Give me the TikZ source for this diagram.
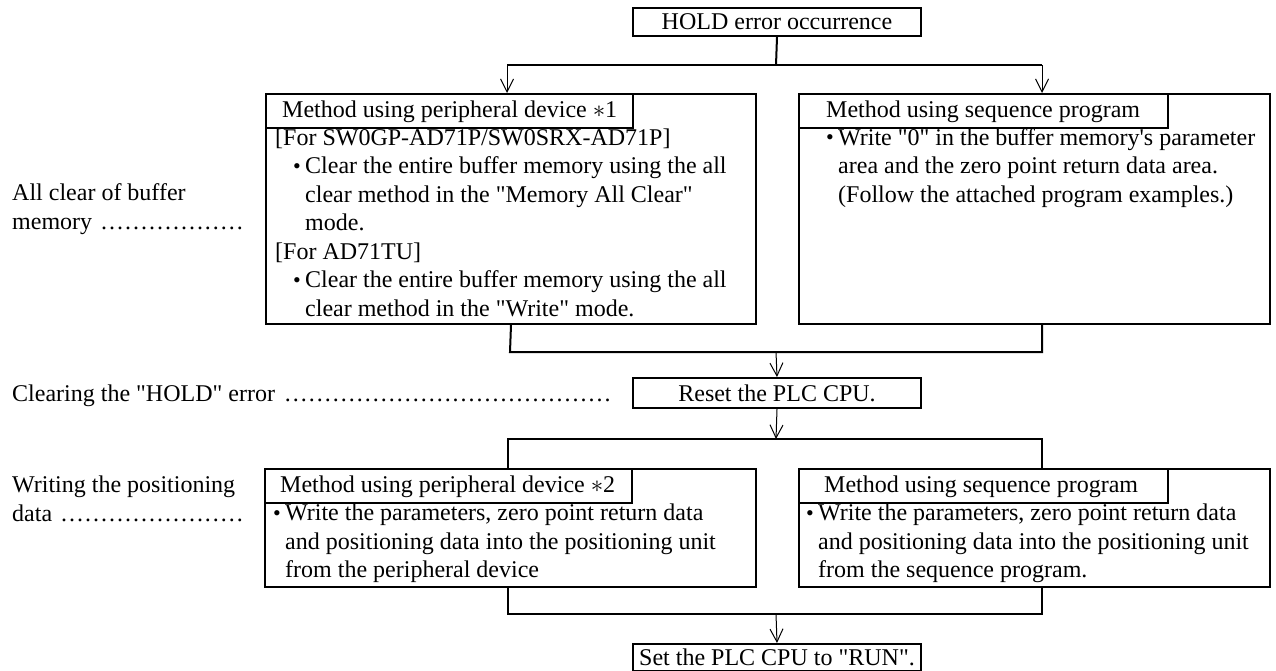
\documentclass[tikz,border=0pt]{standalone}
\usepackage{fontspec}
\setmainfont{Liberation Serif}[Ligatures=TeXOff]
\usetikzlibrary{arrows.meta}
\begin{document}
\begin{tikzpicture}[x=1pt,y=-1pt,
  frame/.style={draw, line width=2pt, inner sep=0pt, anchor=north west},
  tbox/.style={frame, font=\fontsize{24}{28.5}\selectfont},
  lbl/.style={inner sep=0pt, anchor=base west, font=\fontsize{24}{28.5}\selectfont},
  link/.style={line width=2pt},
  arr/.style={line width=1pt, -{Straight Barb[length=13pt,width=13pt,line width=1pt]}},
]
\useasboundingbox (0,0) rectangle (1276,671);
\newcommand{\lead}{\leaders\hbox to 0.333em{\hss.\hss}\hfill}
\newcommand{\bl}[1]{\hspace*{#1}\makebox[12pt][l]{\raisebox{0.5pt}{\fontsize{22}{22}\selectfont\textbullet}}}

% top
\node[tbox, minimum width=288pt, minimum height=28pt] (hold) at (632,7) {HOLD error occurrence};

% upper boxes
\node[frame, minimum width=490pt, minimum height=230pt] (m1) at (265,93) {};
\node[frame, minimum width=367pt, minimum height=34pt] (m1h) at (265,93) {};
\node[lbl] (m1t) at (282,117.5) {Method using peripheral device $\ast$1};
\node[lbl] (m1b) at (275,145.5) {\parbox[t]{478pt}{%
{}[For SW0GP-AD71P/SW0SRX-AD71P]\\
\bl{18pt}Clear the entire buffer memory using the all\\
\hspace*{30pt}clear method in the "Memory All Clear"\\
\hspace*{30pt}mode.\\{}%
[For AD71TU]\\
\bl{18pt}Clear the entire buffer memory using the all\\
\hspace*{30pt}clear method in the "Write" mode.}};

\node[frame, minimum width=471pt, minimum height=230pt] (m2) at (798,93) {};
\node[frame, minimum width=369pt, minimum height=34pt] (m2h) at (798,93) {};
\node[lbl] (m2t) at (826,117.5) {Method using sequence program};
\node[lbl] (m2b) at (826,145.5) {\parbox[t]{440pt}{%
\bl{0pt}Write "0" in the buffer memory's parameter\\
\hspace*{12pt}area and the zero point return data area.\\
\hspace*{12pt}(Follow the attached program examples.)}};

% left labels
\node[lbl] (l1) at (12,200.5) {\parbox[t]{238pt}{All clear of buffer\\
\hbox to 238pt{memory \lead}}};
\node[lbl] (l2) at (12,401) {\hbox to 603pt{Clearing the "HOLD" error \lead}};
\node[lbl] (l3) at (12,492.5) {\parbox[t]{238pt}{Writing the positioning\\
\hbox to 238pt{data \lead}}};

% reset
\node[tbox, minimum width=288pt, minimum height=30pt] (reset) at (632,377) {Reset the PLC CPU.};

% lower boxes
\node[frame, minimum width=491pt, minimum height=118pt] (m3) at (264,468) {};
\node[frame, minimum width=367pt, minimum height=34pt] (m3h) at (264,468) {};
\node[lbl] (m3t) at (280,492.5) {Method using peripheral device $\ast$2};
\node[lbl] (m3b) at (273,520.5) {\parbox[t]{478pt}{%
\bl{0pt}Write the parameters, zero point return data\\
\hspace*{12pt}and positioning data into the positioning unit\\
\hspace*{12pt}from the peripheral device}};

\node[frame, minimum width=471pt, minimum height=118pt] (m4) at (798,468) {};
\node[frame, minimum width=369pt, minimum height=34pt] (m4h) at (798,468) {};
\node[lbl] (m4t) at (824,492.5) {Method using sequence program};
\node[lbl] (m4b) at (806,520.5) {\parbox[t]{455pt}{%
\bl{0pt}Write the parameters, zero point return data\\
\hspace*{12pt}and positioning data into the positioning unit\\
\hspace*{12pt}from the sequence program.}};

% final
\node[tbox, minimum width=288pt, minimum height=27pt] (run) at (632,643) {Set the PLC CPU to "RUN".};

% connectors
\coordinate (j1) at (776,65);
\coordinate (j1l) at (507,65);
\coordinate (j1r) at (1042,65);
\draw[link] (hold.south) -- (j1);
\draw[link] (j1l) -- (j1r);
\draw[arr] (j1l) -- (j1l |- m1.north);
\draw[arr] (j1r) -- (j1r |- m2.north);

\coordinate (j2) at (776,352);
\coordinate (j2l) at (510,352);
\coordinate (j2r) at (1042,352);
\draw[link] (m1.south) -- (j2l) -- (j2r) -- (j2r |- m2.south);
\draw[arr] (j2) -- (reset.north);

\coordinate (j3) at (776,439);
\coordinate (j3l) at (508,439);
\coordinate (j3r) at (1042,439);
\draw[arr] (reset.south) -- (j3);
\draw[link] (j3l |- m3.north) -- (j3l) -- (j3r) -- (j3r |- m4.north);

\coordinate (j4) at (776,614);
\coordinate (j4l) at (508,614);
\coordinate (j4r) at (1042,614);
\draw[link] (j4l |- m3.south) -- (j4l) -- (j4r) -- (j4r |- m4.south);
\draw[arr] (j4) -- (run.north);
\end{tikzpicture}
\end{document}
